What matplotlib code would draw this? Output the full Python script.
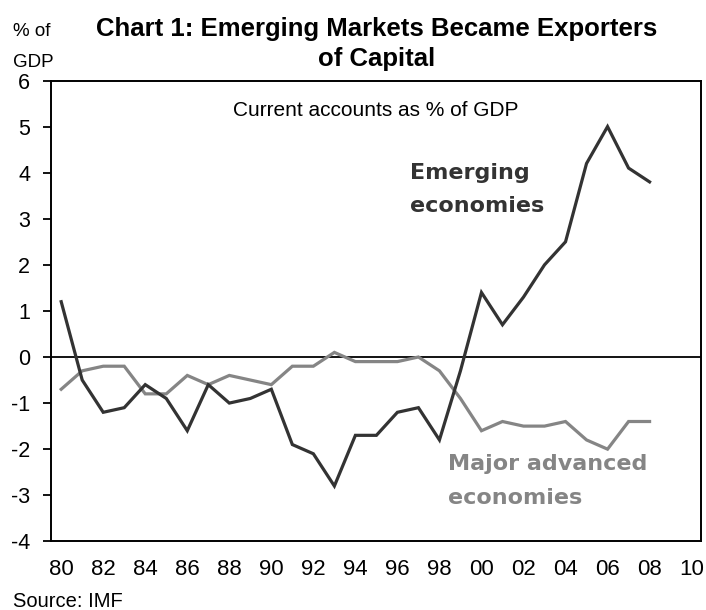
"""
Chart 1: Emerging markets became exporters of capital (current accounts, % of GDP).
"""

import matplotlib
matplotlib.use("Agg")
import matplotlib.pyplot as plt

# --- Data ---
years = list(range(1980, 2009))
emerging = [1.2, -0.5, -1.2, -1.1, -0.6, -0.9, -1.6, -0.6, -1.0, -0.9,
            -0.7, -1.9, -2.1, -2.8, -1.7, -1.7, -1.2, -1.1, -1.8, -0.3,
            1.4, 0.7, 1.3, 2.0, 2.5, 4.2, 5.0, 4.1, 3.8]
advanced = [-0.7, -0.3, -0.2, -0.2, -0.8, -0.8, -0.4, -0.6, -0.4, -0.5,
            -0.6, -0.2, -0.2, 0.1, -0.1, -0.1, -0.1, 0.0, -0.3, -0.9,
            -1.6, -1.4, -1.5, -1.5, -1.4, -1.8, -2.0, -1.4, -1.4]
xtick_years = list(range(1980, 2011, 2))
xtick_labels = [f"{y % 100:02d}" for y in xtick_years]
yticks = list(range(-4, 7))

plt.rcParams["font.family"] = ["Liberation Sans", "DejaVu Sans"]
plt.rcParams["axes.unicode_minus"] = False

dark = "#333333"
grey = "#858585"

fig = plt.figure(figsize=(7.06, 6.10), dpi=100)
ax = fig.add_axes([0.0718, 0.1126, 0.9212, 0.7554])

ax.plot(years, advanced, color=grey, lw=2.3, solid_joinstyle="miter")
ax.plot(years, emerging, color=dark, lw=2.3, solid_joinstyle="miter")
ax.axhline(0, color="black", lw=1.3, zorder=1)

ax.set_xlim(1979.5, 2010.45)
ax.set_ylim(-4, 6)
ax.set_xticks(xtick_years)
ax.set_xticklabels(xtick_labels)
ax.set_yticks(yticks)
ax.tick_params(axis="x", length=0, pad=13, labelsize=16)
ax.tick_params(axis="y", length=5.8, width=1.3, direction="out", pad=9, labelsize=15.5)
for spine in ax.spines.values():
    spine.set_linewidth(1.4)

# --- Text ---
fig.text(0.533, 0.941, "Chart 1: Emerging Markets Became Exporters",
         ha="center", va="baseline", fontsize=18.5, fontweight="bold")
fig.text(0.533, 0.891, "of Capital",
         ha="center", va="baseline", fontsize=18.5, fontweight="bold")
fig.text(0.018, 0.941, "% of", ha="left", va="baseline", fontsize=13.5)
fig.text(0.018, 0.890, "GDP", ha="left", va="baseline", fontsize=13.5)
ax.text(1994.97, 5.24, "Current accounts as % of GDP",
        ha="center", va="baseline", fontsize=15)

ax.text(1996.6, 3.87, "Emerging", ha="left", va="baseline",
        fontsize=16, fontweight="bold", color=dark, family="DejaVu Sans")
ax.text(1996.6, 3.14, "economies", ha="left", va="baseline",
        fontsize=16, fontweight="bold", color=dark, family="DejaVu Sans")
ax.text(1998.4, -2.46, "Major advanced", ha="left", va="baseline",
        fontsize=16, fontweight="bold", color=grey, family="DejaVu Sans")
ax.text(1998.4, -3.18, "economies", ha="left", va="baseline",
        fontsize=16, fontweight="bold", color=grey, family="DejaVu Sans")

fig.text(0.018, 0.0055, "Source: IMF", ha="left", va="baseline", fontsize=14.5)

fig.savefig("out.png", dpi=100)
